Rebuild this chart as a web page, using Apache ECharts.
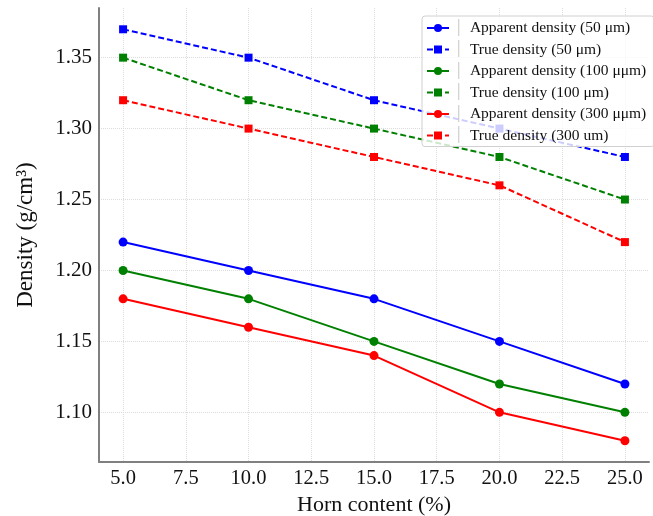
<!DOCTYPE html>
<html>
<head>
	<meta charset="utf-8" />
	<title>Density vs horn content</title>
	<script src="https://cdn.jsdelivr.net/npm/echarts@6/dist/echarts.min.js"></script>
	<style>
		html, body { margin: 0; padding: 0; background: #fff; }
		#chart { width: 653px; height: 516px; }
	</style>
</head>
<body>
<div id="chart"></div>
<script>
	var hornContent = [5, 10, 15, 20, 25];

	var apparent50  = [1.22, 1.20, 1.18, 1.15, 1.12];
	var true50      = [1.37, 1.35, 1.32, 1.30, 1.28];
	var apparent100 = [1.20, 1.18, 1.15, 1.12, 1.10];
	var true100     = [1.35, 1.32, 1.30, 1.28, 1.25];
	var apparent300 = [1.18, 1.16, 1.14, 1.10, 1.08];
	var true300     = [1.32, 1.30, 1.28, 1.26, 1.22];

	var xTicks = [5, 7.5, 10, 12.5, 15, 17.5, 20, 22.5, 25];
	var yTicks = [1.10, 1.15, 1.20, 1.25, 1.30, 1.35];

	var serif = '"Liberation Serif", "DejaVu Serif", serif';

	function pairs(vals) {
		return hornContent.map(function (x, i) { return [x, vals[i]]; });
	}

	function makeSeries(name, vals, color, dashed) {
		return {
			name: name,
			type: 'line',
			data: pairs(vals),
			symbol: dashed ? 'rect' : 'circle',
			symbolSize: dashed ? 8 : 9,
			itemStyle: { color: color },
			lineStyle: { color: color, width: 2, type: dashed ? [6, 3] : 'solid' },
			animation: false
		};
	}

	var chart = echarts.init(document.getElementById('chart'));

	var option = {
		backgroundColor: '#fff',
		grid: { left: 99, right: 4, top: 8, bottom: 54, outerBoundsMode: 'none', containLabel: false },
		legend: {
			orient: 'vertical',
			left: 422,
			top: 16,
			itemWidth: 22,
			itemHeight: 10,
			itemGap: 5.5,
			padding: [4, 8, 3, 4],
			backgroundColor: 'rgba(255,255,255,0.8)',
			borderColor: '#d0d0d0',
			borderWidth: 1,
			borderRadius: 3,
			formatter: function (name) {
				return '{bar|\u2502}{t|' + name + '}';
			},
			textStyle: {
				fontFamily: serif,
				fontSize: 15.5,
				color: '#111',
				rich: {
					bar: { color: '#c8c8c8', fontSize: 14, lineHeight: 16, padding: [0, 6, 0, 0] },
					t: { fontFamily: serif, fontSize: 15.5, lineHeight: 16, color: '#111' }
				}
			}
		},
		xAxis: {
			type: 'value',
			min: 4.04,
			max: 25.96,
			name: 'Horn content (%)',
			nameLocation: 'middle',
			nameGap: 24,
			nameTextStyle: { fontFamily: serif, fontSize: 22, color: '#111', verticalAlign: 'top' },
			axisLine: { show: true, lineStyle: { color: '#808080', width: 2 } },
			axisTick: { show: false, customValues: xTicks },
			axisLabel: {
				customValues: xTicks,
				fontFamily: serif,
				fontSize: 20.5,
				color: '#111',
				margin: 6,
				formatter: function (v) { return v.toFixed(1); }
			},
			splitLine: { show: true, lineStyle: { color: '#dcdcdc', type: 'dotted', width: 1 } }
		},
		yAxis: {
			type: 'value',
			min: 1.065,
			max: 1.385,
			name: 'Density (g/cm\u00b3)',
			nameLocation: 'middle',
			nameRotate: 90,
			nameGap: 62,
			nameTextStyle: { fontFamily: serif, fontSize: 23, color: '#111' },
			axisLine: { show: true, lineStyle: { color: '#808080', width: 2 } },
			axisTick: { show: false, customValues: yTicks },
			axisLabel: {
				customValues: yTicks,
				fontFamily: serif,
				fontSize: 21,
				color: '#111',
				margin: 7,
				formatter: function (v) { return v.toFixed(2); }
			},
			splitLine: { show: true, lineStyle: { color: '#dcdcdc', type: 'dotted', width: 1 } }
		},
		series: [
			makeSeries('Apparent density (50 \u03bcm)', apparent50, '#0000ff', false),
			makeSeries('True density (50 \u03bcm)', true50, '#0000ff', true),
			makeSeries('Apparent density (100 \u03bc\u03bcm)', apparent100, '#008000', false),
			makeSeries('True density (100 \u03bcm)', true100, '#008000', true),
			makeSeries('Apparent density (300 \u03bc\u03bcm)', apparent300, '#ff0000', false),
			makeSeries('True density (300 um)', true300, '#ff0000', true)
		]
	};

	chart.setOption(option);
</script>
</body>
</html>
